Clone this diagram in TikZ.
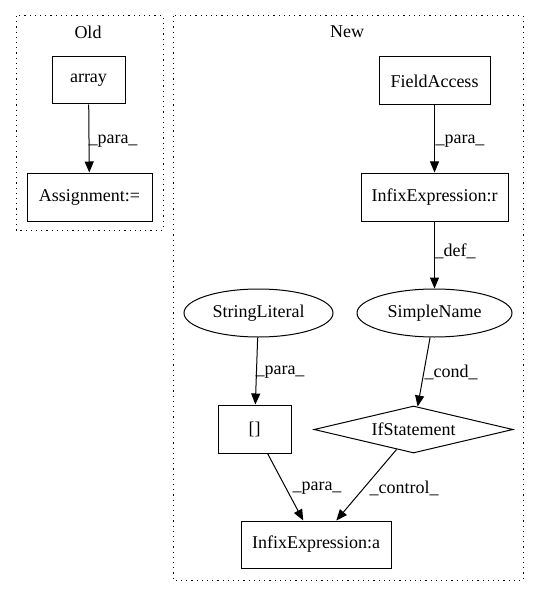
\documentclass[tikz,border=0pt]{standalone}
\usepackage{fontspec}
\setmainfont{Liberation Serif}
\usetikzlibrary{shapes.geometric,arrows.meta}
\begin{document}
\begin{tikzpicture}[x=1pt,y=-1pt,
  every node/.style={font=\fontsize{18}{20}\selectfont},
  boxnode/.style={draw,rectangle,inner sep=0pt,line width=1pt},
  ellnode/.style={draw,ellipse,inner sep=0pt,line width=1pt},
  diamnode/.style={draw,diamond,aspect=4.23,inner sep=0pt,line width=1pt},
  cluster/.style={draw,line width=1pt,dash pattern=on 1.2pt off 4pt},
  arr/.style={-{Triangle[length=11pt,width=9pt]},line width=1pt},
  lbl/.style={inner sep=0pt}]
\useasboundingbox (0,0) rectangle (539,596);
% clusters
\draw[cluster] (16,16) rectangle (163,230);
\draw[cluster] (173,16) rectangle (523,580);
\node[lbl] (oldlbl) at (88,32) {Old};
\node[lbl] (newlbl) at (347,32) {New};
% Old
\node[boxnode,minimum width=73,minimum height=47] (array) at (88.5,80.5) {array};
\node[boxnode,minimum width=125,minimum height=48] (assign) at (89.5,197) {Assignment:=};
\draw[arr] (array) -- (assign);
\node[lbl] (l1) at (113,141) {\_para\_};
% New
\node[boxnode,minimum width=111,minimum height=48] (field) at (434.5,81) {FieldAccess};
\node[boxnode,minimum width=147,minimum height=48] (infr) at (434.5,197) {InfixExpression:r};
\node[ellnode,minimum width=155,minimum height=48] (simple) at (434.5,313) {SimpleName};
\node[ellnode,minimum width=149,minimum height=48] (str) at (258.5,313) {StringLiteral};
\node[boxnode,minimum width=73,minimum height=48] (brk) at (254.5,429) {[]};
\node[diamnode,minimum width=199,minimum height=47] (ifst) at (413.5,429.5) {IfStatement};
\node[boxnode,minimum width=150,minimum height=47] (infa) at (316,544.5) {InfixExpression:a};
\draw[arr] (field) -- (infr);
\draw[arr] (infr) -- (simple);
\draw[arr] (str) -- (brk);
\draw[arr] (simple) -- (ifst);
\draw[arr] (brk) -- (infa);
\draw[arr] (ifst) -- (infa);
\node[lbl] (l2) at (460,141) {\_para\_};
\node[lbl] (l3) at (455,251) {\_def\_};
\node[lbl] (l4) at (280,372) {\_para\_};
\node[lbl] (l5) at (451,372) {\_cond\_};
\node[lbl] (l6) at (317,488) {\_para\_};
\node[lbl] (l7) at (404,488) {\_control\_};
\end{tikzpicture}
\end{document}
